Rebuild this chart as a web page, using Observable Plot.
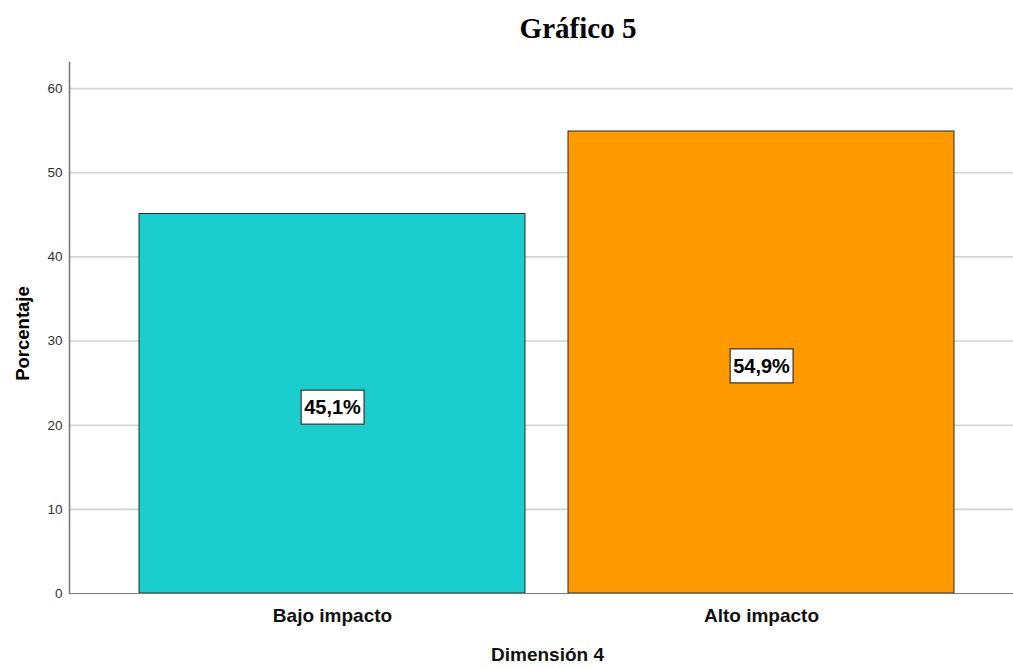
<!DOCTYPE html>
<html>
<head>
<meta charset="utf-8">
<script src="https://cdn.jsdelivr.net/npm/d3@7"></script>
<script src="https://cdn.jsdelivr.net/npm/@observablehq/plot@0.6"></script>
<style>
  html, body { margin: 0; padding: 0; background: #fff; }
  #title { height: 55px; width: 1013px; position: relative; font-family: "Liberation Serif", "Times New Roman", serif; font-weight: bold; font-size: 29px; line-height: 29px; color: #000; }
  #title span { position: absolute; left: 578px; top: 14px; transform: translateX(-50%); white-space: nowrap; }
</style>
</head>
<body>
<div id="title"><span>Gráfico 5</span></div>
<div id="chart"></div>
<script>
const categories = ["Bajo impacto", "Alto impacto"];
const values = [45.1, 54.9];
const labels = ["45,1%", "54,9%"];
const colors = ["#1ccdcd", "#ff9900"];
const yTicks = [0, 10, 20, 30, 40, 50, 60];

const data = categories.map((c, i) => ({cat: c, value: values[i], label: labels[i], color: colors[i]}));

const chart = Plot.plot({
  width: 1013,
  height: 614,
  marginLeft: 69,
  marginRight: 0,
  marginTop: 7,
  marginBottom: 76,
  style: {fontFamily: "'Liberation Sans', Arial, sans-serif", background: "#fff"},
  x: {domain: categories, paddingInner: 0.1, paddingOuter: 0.1477, align: 0.543, label: null},
  y: {domain: [0, 63.1], ticks: yTicks, label: null},
  marks: [
    Plot.ruleY(yTicks.filter(d => d > 0), {stroke: "#d4d4d4", strokeWidth: 1.6}),
    Plot.barY(data, {x: "cat", y: "value", fill: "color", stroke: "#2b2b2b", strokeWidth: 1}),
    Plot.ruleY([0], {stroke: "#7a7a7a", strokeWidth: 1.2}),
    Plot.frame({anchor: "left", stroke: "#7a7a7a", strokeWidth: 1.6}),
    Plot.axisY({ticks: yTicks, tickSize: 0, tickPadding: 7, fontSize: 13.5, fill: "#333", label: null}),
    Plot.axisX({tickSize: 0, tickPadding: 15, fontSize: 19, fontWeight: "bold", fill: "#111", label: null}),
    Plot.text(data, {x: "cat", y: d => d.value / 2, text: "label", fontSize: 20, fontWeight: "bold", fill: "#000", dy: 4, className: "barlabel"}),
    Plot.text(["Porcentaje"], {frameAnchor: "left", textAnchor: "middle", dx: -46, dy: 5.5, rotate: -90, fontSize: 18.5, fontWeight: "bold", fill: "#000"}),
    Plot.text(["Dimensión 4"], {frameAnchor: "bottom", dx: 6, dy: 67, fontSize: 19, fontWeight: "bold", fill: "#111"})
  ]
});

document.getElementById("chart").appendChild(chart);

// white boxes behind bar labels
d3.select(chart).selectAll("g.barlabel text").each(function() {
  const b = this.getBBox();
  const t = this.getAttribute("transform");
  const cy = b.y + b.height / 2;
  const r = document.createElementNS("http://www.w3.org/2000/svg", "rect");
  r.setAttribute("x", b.x - 3);
  r.setAttribute("y", cy - 17);
  r.setAttribute("width", b.width + 6);
  r.setAttribute("height", 34);
  r.setAttribute("fill", "#fff");
  r.setAttribute("stroke", "#333");
  r.setAttribute("stroke-width", "1.2");
  if (t) r.setAttribute("transform", t);
  this.parentNode.insertBefore(r, this);
});
</script>
</body>
</html>
